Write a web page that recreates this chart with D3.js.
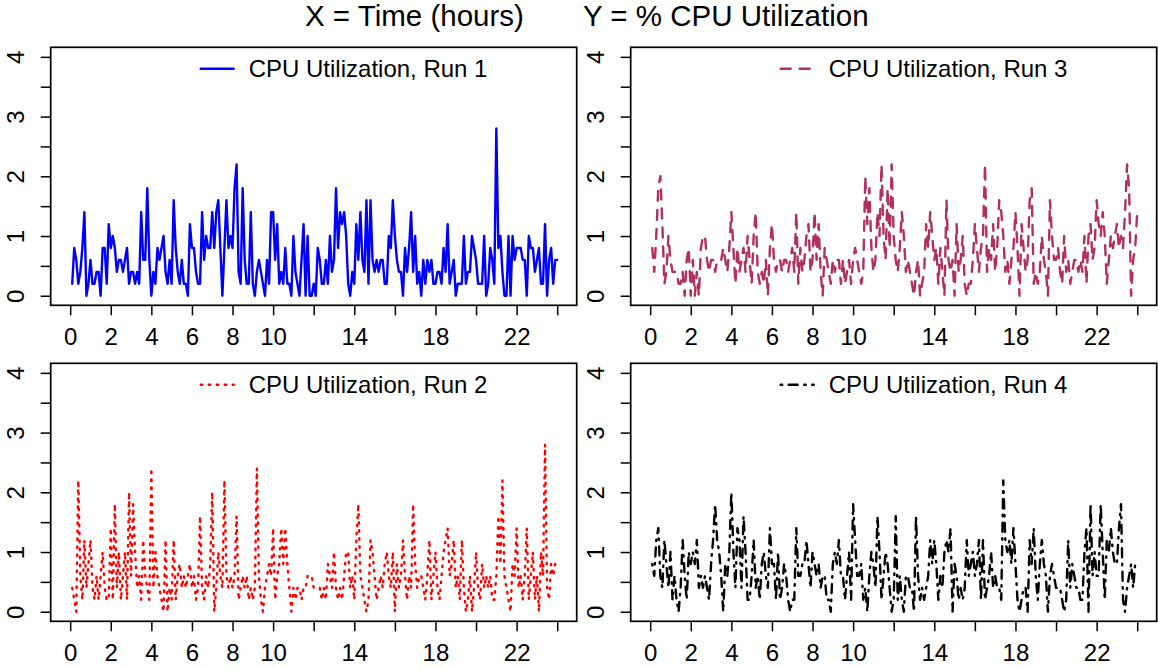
<!DOCTYPE html>
<html>
<head>
<meta charset="utf-8">
<script src="https://cdn.jsdelivr.net/npm/d3@7"></script>
<style>
  body { margin: 0; background: #fff; }
  svg { display: block; font-family: "Liberation Sans", Arial, sans-serif; }
  .axis text { font-size: 24px; fill: #000; }
  .axis line { stroke: #000; stroke-width: 1.5; }
  .box { fill: none; stroke: #000; stroke-width: 1.7; }
  .legend-text { font-size: 24px; fill: #000; }
  .title { font-size: 29.5px; fill: #000; }
</style>
</head>
<body>
<svg id="chart" width="1158" height="668"></svg>
<script>
// CPU utilization, one value every 6 minutes (0.1 h), 0.1 h .. 24.0 h
const run1 = [
  0.2,0.8,0.6,0.2,0.4,0.8,1.4,0,0.2,0.6,
  0.2,0.2,0.4,0.4,0,0.8,0.8,0.2,1.2,0.8,
  1.0,0.8,0.4,0.6,0.6,0.4,0.6,0.8,0.2,0.4,
  0.4,0.2,0.4,0.2,1.4,0.6,0.6,1.8,0.6,0,
  0.4,0.2,0.8,0.6,0.8,1.0,0.4,0.2,0.6,0.2,
  1.6,0.8,0.4,0.2,0.6,0.2,0.2,0,1.2,0.8,
  0.8,0.4,0.2,0.2,1.4,0.6,1.0,0.8,0.8,1.4,
  0.8,1.4,1.6,0.8,0,0.8,1.6,0.8,1.0,0.8,
  1.8,2.2,0.4,0.2,1.8,0.6,0.2,0.2,1.4,0.2,
  0,0.4,0.6,0.4,0.2,0,0.6,0.2,1.4,1.4,
  0.6,1.2,0.2,0.4,0.2,0.8,0.2,0.2,0,1.0,
  0.4,0.2,0,0.6,1.2,0,1.0,0,0,0.2,
  0,0.8,0.6,0.2,0.2,0.6,0.2,1.0,0.4,0.6,
  1.8,0.8,1.4,1.2,1.4,1.0,0.2,0,0.4,0.2,
  1.2,0.6,1.4,0.6,0.4,1.6,0.2,1.6,0.6,0.4,
  0.6,0.4,0.6,0.6,0.2,0.2,1.0,0.8,1.6,1.0,
  0.6,0.4,0.4,0,0.8,0.4,0.8,1.4,0.4,1.0,
  0.2,0.4,0,0.6,0.2,0.6,0.4,0.6,0.2,0.2,
  0.4,0.4,0.2,0.8,0.4,1.2,0.2,0.4,0.6,0,
  0.2,0.2,0.2,1.0,0.2,0.4,0.4,1.0,0.8,0.6,
  0.2,0.2,0.2,1.0,0,0.2,0.8,0.6,0.2,2.8,
  0.8,1.0,0.4,0,0,1.0,0,1.0,0.6,0.8,
  0.8,0.8,0.6,0.6,0,1.0,0.8,0.8,0.4,0.6,
  0.8,0.2,0.2,1.2,0,0.6,0.8,0.2,0.6,0.6
];
const run2 = [
  0.4,0.2,0,2.2,0.6,0.2,1.2,0.4,0.8,1.2,
  0.4,0.2,0.6,0.2,0.6,1.0,0.4,0.2,0.2,1.4,
  0.2,1.8,0.4,1.0,0.2,0.6,1.0,0.2,2.0,0.6,
  1.8,1.0,0.4,0.6,0.2,1.2,0.6,0.4,0.2,2.4,
  0.4,1.0,0.6,0.4,0.2,0,1.2,0,0.4,0.2,
  1.2,0.2,0.6,0.8,0.4,0.6,0.4,0.6,0.8,0.4,
  0.6,0.2,0.4,1.6,0.4,0.2,0.6,0.4,0.8,2.0,
  0,0.4,1.0,0.6,0.4,2.2,0.6,0.4,0.6,0.4,
  0.6,1.6,0.2,0.4,0.6,0.4,0.6,0.2,0.4,0.2,
  0.4,2.4,0.6,0.2,0,0.4,0.6,0.8,0.6,1.4,
  0.2,0.6,0.8,1.4,0.8,1.4,0.8,0.4,0,0.4,
  0.2,0.4,0.4,0.2,0.4,0.4,0.6,0.6,0.6,0.4,
  0.4,0.4,0.4,0.2,0.4,0.2,0.8,0.6,0.4,1.0,
  0.4,0.2,0.4,0.2,0.6,1.0,1.0,0.4,0.6,0.2,
  1.2,1.8,0.6,0.4,0.2,0,0.2,1.2,1.0,0.6,
  0.2,0.4,0.6,0.4,0.8,1.0,0.6,0.4,1.0,0,
  0.8,0.4,0.6,1.2,0.6,0.2,0.6,0.4,1.8,0.8,
  0.4,0.6,0.6,0.4,0.2,0.6,1.2,0.2,0.6,1.0,
  0.4,0.2,0.6,1.0,1.2,1.4,0.6,0.8,1.2,0.4,
  0.6,0.2,1.2,0.4,0,0.2,0.6,0,0.4,1.0,
  0.4,0.2,0.8,0.4,0.6,0.4,0.6,0.2,0.2,0.6,
  1.6,0.8,2.2,0.6,0.4,0.2,0,0.8,0.6,1.4,
  0.4,0.6,0.2,0.6,1.4,0.2,0.6,1.0,0.2,0.6,
  0,1.0,0.6,2.8,0.4,0.2,0.8,0.6,0.8,0.7
];
const run3 = [
  0.8,0.4,1.0,1.8,2.0,1.2,0.2,0.4,1.0,0.6,
  0.4,0.4,0.4,0.2,0.2,0.4,0,0.6,0.8,0,
  0.6,0,0.4,0,0.8,1.0,1.0,0.6,0.4,0.6,
  0.6,0.4,0.6,0.6,0.6,0.8,0.6,0.4,0.8,1.4,
  0.8,0.2,0.8,0.4,0.6,0.8,0.4,1.0,0.6,0.2,
  1.0,1.4,0.4,0.2,0.4,0.2,0.6,0,0.8,1.2,
  0.6,0.4,0.6,0.6,0.4,0.6,0.6,0.4,0.6,0.8,
  0.4,1.4,0.2,0.8,0.4,0.6,1.0,1.2,0.4,0.6,
  1.4,0.6,1.2,0.4,0,0.8,0.6,0.4,0.2,0.6,
  0.4,0.6,0.6,0.2,0.6,0.2,0.4,0.6,0.2,0.6,
  0.8,0.6,0.4,0.2,0.4,2.0,1.2,1.8,0.8,0.4,
  0.6,1.4,1.0,2.2,1.0,0.6,1.8,0.8,2.2,1.0,
  0.6,0.4,0.8,1.4,1.0,0.4,0.6,0.4,0.2,0,
  0.4,0.6,0,0.2,0.4,1.2,0.8,1.4,1.0,0.6,
  0.8,0.2,0.8,0.4,0,1.6,0.6,0.4,0.6,0,
  1.2,0.4,0.6,1.0,0.2,0,0.2,0.2,0.6,1.2,
  0.8,0.4,0.8,1.0,2.2,0.4,0.8,0.6,1.2,0.4,
  0.8,1.6,1.4,1.0,0.4,0.6,0.2,0.6,0.8,1.4,
  0.8,0,1.2,0.8,0.4,0.6,1.6,1.8,0.2,0.4,
  0.2,0.4,1.0,0.6,0.4,0,1.6,1.0,0.6,0.6,
  0.8,0.4,0.2,1.0,0.4,0.6,0.2,0.4,0.6,0.6,
  0.4,0.6,0.4,1.0,0.2,1.0,1.2,0.6,0.8,1.6,
  1.2,1.0,1.4,1.0,0.2,0.6,1.0,0.8,1.0,1.2,
  0.8,1.0,0.8,1.4,2.2,1.8,0,0.6,0.8,1.4
];
const run4 = [
  0.8,0.6,1.2,1.4,0.6,0.4,1.2,0.8,0.4,1.0,
  0.2,0.6,0.2,0,0.4,1.2,0.6,0.2,1.0,0.8,
  1.0,0.8,1.2,0.4,0.6,0.4,0.6,0.4,0.2,0.8,
  1.2,1.8,1.2,1.0,0.6,0,0.8,0.6,1.0,2.0,
  1.0,0.4,1.4,1.2,0.4,1.6,1.0,0.2,0.2,0.6,
  1.2,0.4,0.6,0.2,0.8,1.0,0.6,0.4,1.4,0.8,
  0.8,0.2,1.0,0.2,0.4,0.8,0.6,0.2,0,0.2,
  0.2,1.4,0.6,0.6,0.8,0.8,1.2,0.8,0.4,1.0,
  0.8,0.6,0.8,0.4,0.6,0.6,0.2,0.2,0,0.8,
  1.0,0.8,1.2,0.6,0.6,0.2,0.6,1.0,0.2,1.8,
  1.2,0.6,0.6,0.8,0.2,0.4,0,0.6,1.0,0.8,
  0.4,1.6,1.0,0.2,0.6,1.0,0.8,0.4,0,0.2,
  1.6,0.2,0.6,0.2,0,0.6,0.6,0.4,0.4,0,
  1.6,0.6,0.2,0.4,0.2,0.4,0.6,1.2,0.8,1.2,
  0.8,0.2,0.6,0.4,1.0,1.2,1.0,1.4,0,0.8,
  0.6,0.2,0.4,0.2,0.4,1.2,0.6,0.8,1.0,0.6,
  0.8,1.2,0.2,1.2,0.2,0.4,0.6,1.0,0.4,0.6,
  0.4,0.4,0.2,2.2,1.2,1.0,1.2,0.8,1.4,0.8,
  0.2,0,0.2,0.4,0.4,0,1.2,0.8,1.4,0.6,
  0.2,0.8,1.2,0.8,0.6,0,0.6,0.8,0.6,0.4,
  0.4,0.4,0.2,0,0.2,1.2,0.4,0.8,0.6,0.4,
  0.4,0.2,0.2,1.0,1.4,0,1.8,0.6,1.0,0.6,
  0.6,1.8,1.0,0.2,1.2,1.0,1.4,1.0,0.8,0.8,
  1.4,1.8,0.2,0,0.4,0.6,0.8,0.4,0.8,0.8
];

const xTicks = [0, 2, 4, 6, 8, 10, 12, 14, 16, 18, 20, 22, 24];
const xTickLabels = [0, 2, 4, 6, 8, 10, 14, 18, 22];
const yTicks = [0, 0.5, 1, 1.5, 2, 2.5, 3, 3.5, 4];
const yTickLabels = [0, 1, 2, 3, 4];
const titles = ['X = Time (hours)', 'Y = % CPU Utilization'];

class CpuPanel {

    /**
     * One R-style panel: box, axes, one series and a top legend
     */
    constructor(_config, _values) {
      this.config = {
        parentElement: _config.parentElement,
        left: _config.left,
        top: _config.top,
        width: _config.width || 526,
        height: _config.height || 258,
        color: _config.color,
        dash: _config.dash || null,
        label: _config.label
      }
      this.values = _values;
      this.initVis();
    }

    initVis() {
      let vis = this;

      vis.width = vis.config.width;
      vis.height = vis.config.height;

      // R pads the axis range by 4% on each side
      vis.xScale = d3.scaleLinear()
          .domain([-0.96, 24.96])
          .range([0, vis.width]);

      vis.yScale = d3.scaleLinear()
          .domain([-0.16, 4.16])
          .range([vis.height, 0]);

      vis.xAxis = d3.axisBottom(vis.xScale)
          .tickValues(xTicks)
          .tickSize(10)
          .tickPadding(13)
          .tickFormat(d => xTickLabels.includes(d) ? d : '');

      vis.yAxis = d3.axisLeft(vis.yScale)
          .tickValues(yTicks)
          .tickSize(10)
          .tickFormat(d => yTickLabels.includes(d) ? d : '');

      vis.chart = d3.select(vis.config.parentElement).append('g')
          .attr('transform', `translate(${vis.config.left},${vis.config.top})`);

      vis.lineG = vis.chart.append('g');

      vis.xAxisG = vis.chart.append('g')
          .attr('class', 'axis x-axis')
          .attr('transform', `translate(0,${vis.height})`);

      vis.yAxisG = vis.chart.append('g')
          .attr('class', 'axis y-axis');

      vis.chart.append('rect')
          .attr('class', 'box')
          .attr('width', vis.width)
          .attr('height', vis.height);

      // legend (no frame), centred at the top of the box
      const legend = vis.chart.append('g')
          .attr('transform', 'translate(149,21.5)');

      legend.append('line')
          .attr('x1', 1)
          .attr('x2', 34)
          .attr('stroke', vis.config.color)
          .attr('stroke-width', 2.4)
          .attr('stroke-linecap', 'round')
          .attr('stroke-dasharray', vis.config.dash);

      legend.append('text')
          .attr('class', 'legend-text')
          .attr('x', 49)
          .attr('y', 8.5)
          .text(vis.config.label);
    }

    updateVis() {
      let vis = this;

      vis.points = vis.values.map((v, i) => ({ t: (i + 1) / 10, v: v }));

      vis.xValue = d => d.t;
      vis.yValue = d => d.v;

      vis.renderVis();
    }

    renderVis() {
      let vis = this;

      const line = d3.line()
          .x(d => vis.xScale(vis.xValue(d)))
          .y(d => vis.yScale(vis.yValue(d)));

      vis.lineG.selectAll('.series')
          .data([vis.points])
        .join('path')
          .attr('class', 'series')
          .attr('d', line)
          .attr('fill', 'none')
          .attr('stroke', vis.config.color)
          .attr('stroke-width', 2.4)
          .attr('stroke-linejoin', 'round')
          .attr('stroke-linecap', 'round')
          .attr('stroke-dasharray', vis.config.dash);

      vis.xAxisG.call(vis.xAxis);
      vis.yAxisG.call(vis.yAxis);

      vis.xAxisG.select('.domain').remove();
      vis.yAxisG.select('.domain').remove();

      // y labels are drawn parallel to the axis, as R does by default
      vis.yAxisG.selectAll('.tick text')
          .attr('transform', 'rotate(-90)')
          .attr('x', 0)
          .attr('y', -26.5)
          .attr('dy', null)
          .attr('text-anchor', 'middle');
    }
}

const svg = d3.select('#chart');
svg.append('rect').attr('width', 1158).attr('height', 668).attr('fill', '#fff');

svg.append('text').attr('class', 'title').attr('x', 305).attr('y', 26).text(titles[0]);
svg.append('text').attr('class', 'title').attr('x', 583).attr('y', 26).text(titles[1]);

const panels = [
  new CpuPanel({ parentElement: '#chart', left: 50.7, top: 47.3, color: '#0000ff',
    label: 'CPU Utilization, Run 1' }, run1),
  new CpuPanel({ parentElement: '#chart', left: 630.7, top: 47.3, color: '#b03060',
    dash: '10,9', label: 'CPU Utilization, Run 3' }, run3),
  new CpuPanel({ parentElement: '#chart', left: 50.7, top: 363.3, color: '#ff0000',
    dash: '1.5,6.5', label: 'CPU Utilization, Run 2' }, run2),
  new CpuPanel({ parentElement: '#chart', left: 630.7, top: 363.3, color: '#000000',
    dash: '1.5,6.5,9,6.5', label: 'CPU Utilization, Run 4' }, run4)
];
panels.forEach(p => p.updateVis());
</script>
</body>
</html>
